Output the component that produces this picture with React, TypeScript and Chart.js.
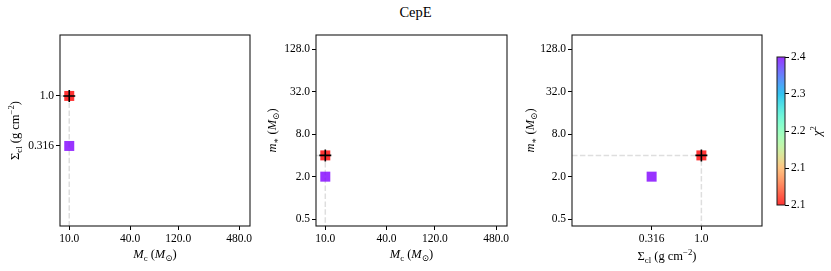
import React, { useEffect, useRef } from "react";
import { Chart, registerables } from "chart.js";
Chart.register(...registerables);

const TITLE = "CepE";
// model grid points (one entry per model)
const modelMc = [10, 10];
const modelSigma = [0.316, 1.0];
const modelMstar = [2.0, 4.0];
const modelChi2 = [2.4, 2.1];

const mcTicks = [10, 40, 120, 480];
const mcTickLabels = ["10.0", "40.0", "120.0", "480.0"];
const sigmaTicks = [0.316, 1.0];
const sigmaTickLabels = ["0.316", "1.0"];
const mstarTicks = [0.5, 2, 8, 32, 128];
const mstarTickLabels = ["0.5", "2.0", "8.0", "32.0", "128.0"];
const chi2Ticks = [2.1, 2.175, 2.25, 2.325, 2.4];
const chi2TickLabels = ["2.1", "2.1", "2.2", "2.3", "2.4"];

const mcRange = [8.1, 615];
const sigmaRange = [0.05, 4.07];
const mstarRange = [0.4, 203];
const chi2Range = [2.1, 2.4];

const FONT = '"Liberation Serif", "DejaVu Serif", serif';
const ALPHA = 0.8;
const TICK_SIZE = 11.5;
const LABEL_SIZE = 12.5;

function rainbowR(t: number) {
  const x = 1 - Math.max(0, Math.min(1, t));
  const c = (v: number) => Math.round(255 * Math.max(0, Math.min(1, v)));
  return [c(Math.abs(2 * x - 0.5)), c(Math.sin(Math.PI * x)), c(Math.cos((Math.PI * x) / 2))];
}
function chiColor(v: number, a = ALPHA) {
  const [r, g, b] = rainbowR((v - chi2Range[0]) / (chi2Range[1] - chi2Range[0]));
  return `rgba(${r},${g},${b},${a})`;
}

type Seg = { t: string; i?: boolean; sub?: boolean; sup?: boolean };
function drawRich(ctx: CanvasRenderingContext2D, segs: Seg[], cx: number, cy: number, size: number, rotate: boolean) {
  const fontFor = (s: Seg) => `${s.i ? "italic " : ""}${s.sub || s.sup ? size * 0.7 : size}px ${FONT}`;
  const widths = segs.map((s) => {
    ctx.font = fontFor(s);
    return ctx.measureText(s.t).width;
  });
  const total = widths.reduce((a, b) => a + b, 0);
  ctx.save();
  ctx.translate(cx, cy);
  if (rotate) ctx.rotate(-Math.PI / 2);
  ctx.fillStyle = "#000";
  ctx.textBaseline = "alphabetic";
  ctx.textAlign = "left";
  let x = -total / 2;
  const base = size * 0.33;
  segs.forEach((s, k) => {
    ctx.font = fontFor(s);
    const dy = s.sub ? size * 0.22 : s.sup ? -size * 0.4 : 0;
    ctx.fillText(s.t, x, base + dy);
    x += widths[k];
  });
  ctx.restore();
}

const LBL_MC: Seg[] = [{ t: "M", i: true }, { t: "c", sub: true }, { t: " (" }, { t: "M", i: true }, { t: "⊙", sub: true }, { t: ")" }];
const LBL_SIGMA: Seg[] = [{ t: "Σ" }, { t: "cl", sub: true }, { t: " (g cm" }, { t: "−2", sup: true }, { t: ")" }];
const LBL_MSTAR: Seg[] = [{ t: "m", i: true }, { t: "∗", sub: true }, { t: " (" }, { t: "M", i: true }, { t: "⊙", sub: true }, { t: ")" }];
const LBL_CHI: Seg[] = [{ t: "χ", i: true }, { t: "2", sup: true }];

const H = 271;

function logAxis(pos: string, range: number[], ticks: number[], labels: string[], size: number) {
  return {
    type: "logarithmic",
    position: pos,
    min: range[0],
    max: range[1],
    afterBuildTicks: (s: any) => {
      s.ticks = ticks.map((v) => ({ value: v }));
    },
    afterFit: (s: any) => {
      if (pos === "left" || pos === "right") s.width = size;
      else s.height = size;
      s.paddingLeft = 0;
      s.paddingRight = 0;
      s.paddingTop = 0;
      s.paddingBottom = 0;
    },
    ticks: {
      callback: (_v: any, i: number) => labels[i],
      autoSkip: false,
      maxRotation: 0,
      minRotation: 0,
      color: "#000",
      font: { family: FONT, size: TICK_SIZE },
      padding: 2,
    },
    grid: { display: true, drawOnChartArea: false, drawTicks: true, tickLength: 4, tickColor: "#000", tickWidth: 1 },
    border: { display: false },
  };
}

type PanelSpec = {
  left: number;
  width: number;
  areaLeft: number;
  padRight: number;
  xs: number[];
  ys: number[];
  xRange: number[];
  yRange: number[];
  xTicks: number[];
  xLabels: string[];
  yTicks: number[];
  yLabels: string[];
  xTitle: Seg[];
  yTitle: Seg[];
  yTitleOff: number;
  xTitleOff: number;
};

function Panel({ spec }: { spec: PanelSpec }) {
  const ref = useRef<HTMLCanvasElement>(null);
  useEffect(() => {
    const best = modelChi2.indexOf(Math.min(...modelChi2));
    const bx = spec.xs[best];
    const by = spec.ys[best];
    const pts = spec.xs.map((x, k) => ({ x, y: spec.ys[k] }));
    const frame = {
      id: "frame",
      afterDraw(chart: any) {
        const { ctx, chartArea: a } = chart;
        ctx.save();
        ctx.strokeStyle = "#1a1a1a";
        ctx.lineWidth = 1.1;
        ctx.strokeRect(a.left, a.top, a.right - a.left, a.bottom - a.top);
        ctx.restore();
        drawRich(ctx, spec.yTitle, a.left - spec.yTitleOff, (a.top + a.bottom) / 2, LABEL_SIZE, true);
        drawRich(ctx, spec.xTitle, (a.left + a.right) / 2, a.bottom + spec.xTitleOff, LABEL_SIZE, false);
      },
    };
    const chart = new Chart(ref.current as HTMLCanvasElement, {
      type: "scatter",
      data: {
        datasets: [
          {
            data: [{ x: bx, y: by }],
            pointStyle: "cross",
            pointRadius: 6,
            pointBorderColor: "#000",
            pointBorderWidth: 1.6,
            order: 0,
          } as any,
          {
            data: pts,
            pointStyle: "rect",
            pointRadius: 7.07,
            pointBorderWidth: 0,
            pointBackgroundColor: modelChi2.map((c) => chiColor(c)),
            order: 1,
          } as any,
          {
            data: [
              { x: spec.xRange[0], y: by },
              { x: bx, y: by },
              { x: bx, y: spec.yRange[0] },
            ],
            showLine: true,
            pointRadius: 0,
            borderColor: "#dedede",
            borderWidth: 1.5,
            borderDash: [5.5, 2.4],
            order: 2,
          } as any,
        ],
      },
      options: {
        animation: false,
        responsive: false,
        events: [],
        layout: { padding: { left: 0, top: 35, right: spec.padRight, bottom: 0 } },
        plugins: { legend: { display: false }, tooltip: { enabled: false }, title: { display: false } },
        scales: {
          x: logAxis("bottom", spec.xRange, spec.xTicks, spec.xLabels, 45) as any,
          y: logAxis("left", spec.yRange, spec.yTicks, spec.yLabels, spec.areaLeft) as any,
        },
      },
      plugins: [frame],
    });
    return () => chart.destroy();
  }, []);
  return (
    <canvas
      ref={ref}
      width={spec.width}
      height={H}
      style={{ position: "absolute", left: spec.left, top: 0, width: spec.width, height: H }}
    />
  );
}

function ColorBar() {
  const ref = useRef<HTMLCanvasElement>(null);
  useEffect(() => {
    const bar = {
      id: "bar",
      beforeDatasetsDraw(chart: any) {
        const { ctx, chartArea: a } = chart;
        const g = ctx.createLinearGradient(0, a.bottom, 0, a.top);
        for (let k = 0; k <= 20; k++) {
          const v = chi2Range[0] + ((chi2Range[1] - chi2Range[0]) * k) / 20;
          g.addColorStop(k / 20, chiColor(v));
        }
        ctx.save();
        ctx.fillStyle = g;
        ctx.fillRect(a.left, a.top, a.right - a.left, a.bottom - a.top);
        ctx.strokeStyle = "#1a1a1a";
        ctx.lineWidth = 1;
        ctx.strokeRect(a.left, a.top, a.right - a.left, a.bottom - a.top);
        ctx.restore();
        drawRich(ctx, LBL_CHI, a.right + 32, (a.top + a.bottom) / 2, LABEL_SIZE, true);
      },
    };
    const yAx: any = {
      type: "linear",
      position: "right",
      min: chi2Range[0],
      max: chi2Range[1],
      afterBuildTicks: (s: any) => {
        s.ticks = chi2Ticks.map((v) => ({ value: v }));
      },
      afterFit: (s: any) => {
        s.width = 46;
        s.paddingTop = 0;
        s.paddingBottom = 0;
      },
      ticks: {
        callback: (_v: any, i: number) => chi2TickLabels[i],
        autoSkip: false,
        color: "#000",
        font: { family: FONT, size: TICK_SIZE },
        padding: 2,
      },
      grid: { display: true, drawOnChartArea: false, drawTicks: true, tickLength: 4, tickColor: "#000" },
      border: { display: false },
    };
    const chart = new Chart(ref.current as HTMLCanvasElement, {
      type: "scatter",
      data: { datasets: [{ data: [] }] },
      options: {
        animation: false,
        responsive: false,
        events: [],
        layout: { padding: { left: 17, top: 57, right: 0, bottom: 66 } },
        plugins: { legend: { display: false }, tooltip: { enabled: false } },
        scales: { x: { display: false }, y: yAx },
      },
      plugins: [bar],
    });
    return () => chart.destroy();
  }, []);
  return <canvas ref={ref} width={71} height={H} style={{ position: "absolute", left: 760, top: 0, width: 71, height: H }} />;
}

const panels: PanelSpec[] = [
  {
    left: 0, width: 260, areaLeft: 60, padRight: 10,
    xs: modelMc, ys: modelSigma, xRange: mcRange, yRange: sigmaRange,
    xTicks: mcTicks, xLabels: mcTickLabels, yTicks: sigmaTicks, yLabels: sigmaTickLabels,
    xTitle: LBL_MC, yTitle: LBL_SIGMA, yTitleOff: 45, xTitleOff: 28,
  },
  {
    left: 260, width: 260, areaLeft: 56, padRight: 13,
    xs: modelMc, ys: modelMstar, xRange: mcRange, yRange: mstarRange,
    xTicks: mcTicks, xLabels: mcTickLabels, yTicks: mstarTicks, yLabels: mstarTickLabels,
    xTitle: LBL_MC, yTitle: LBL_MSTAR, yTitleOff: 44, xTitleOff: 28,
  },
  {
    left: 520, width: 250, areaLeft: 52, padRight: 8,
    xs: modelSigma, ys: modelMstar, xRange: sigmaRange, yRange: mstarRange,
    xTicks: sigmaTicks, xLabels: sigmaTickLabels, yTicks: mstarTicks, yLabels: mstarTickLabels,
    xTitle: LBL_SIGMA, yTitle: LBL_MSTAR, yTitleOff: 42, xTitleOff: 30,
  },
];

export default function App() {
  return (
    <div style={{ position: "absolute", left: 0, top: 0, width: 831, height: H, background: "#fff", overflow: "hidden" }}>
      <div
        style={{
          position: "absolute", left: 0, top: 4, width: 831, textAlign: "center",
          fontFamily: FONT, fontSize: 14.5, color: "#000", lineHeight: "17px",
        }}
      >
        {TITLE}
      </div>
      {panels.map((p, k) => (
        <Panel key={k} spec={p} />
      ))}
      <ColorBar />
    </div>
  );
}
